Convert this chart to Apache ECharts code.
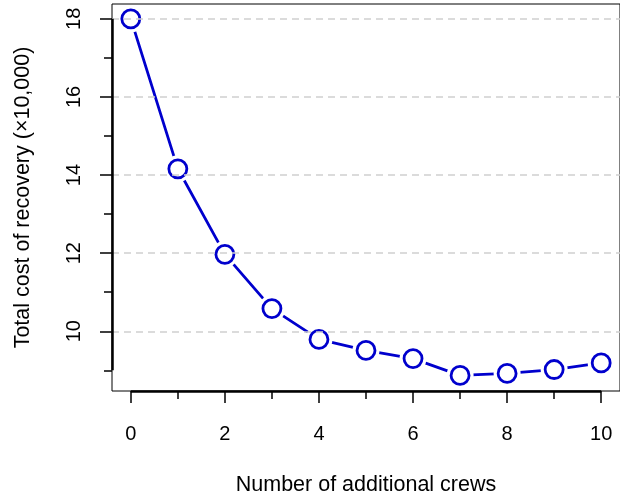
<!DOCTYPE html>
<html>
<head>
<meta charset="utf-8">
<script src="https://cdn.jsdelivr.net/npm/echarts@6/dist/echarts.min.js"></script>
<style>
html,body{margin:0;padding:0;background:#fff;}
#chart{width:620px;height:501px;}
</style>
</head>
<body>
<div id="chart"></div>
<script>
var crews = [0, 1, 2, 3, 4, 5, 6, 7, 8, 9, 10];
var cost = [18.0, 14.16, 11.97, 10.58, 9.79, 9.51, 9.30, 8.87, 8.92, 9.02, 9.19];
var xTicksMajor = [0, 2, 4, 6, 8, 10];
var xTicksMinor = [1, 3, 5, 7, 9];
var yTicksMajor = [10, 12, 14, 16, 18];
var yTicksMinor = [9, 11, 13, 15, 17];
var xRange = [-0.4, 10.4];
var yRange = [8.47, 18.38];

var FONT = "'Liberation Sans', Arial, sans-serif";
var BLUE = '#0000CD';
var pts = crews.map(function (c, i) { return [c, cost[i]]; });

var chart = echarts.init(document.getElementById('chart'), null, {renderer: 'canvas'});

function xAxisDef(ticks, len, labels) {
  return {
    type: 'value', min: xRange[0], max: xRange[1], position: 'bottom',
    axisLine: {show: false, onZero: false},
    splitLine: {show: false},
    axisTick: {show: true, customValues: ticks, length: len, lineStyle: {color: '#000', width: 1.5}},
    axisLabel: labels ? {show: true, customValues: ticks, margin: 33, fontSize: 20, color: '#000', fontFamily: FONT} : {show: false}
  };
}
function yAxisDef(ticks, len, labels) {
  return {
    type: 'value', min: yRange[0], max: yRange[1], position: 'left',
    axisLine: {show: false, onZero: false},
    splitLine: {show: false},
    axisTick: {show: true, customValues: ticks, length: len, lineStyle: {color: '#000', width: 1.5}},
    axisLabel: labels ? {show: true, customValues: ticks, rotate: 90, margin: 28, fontSize: 20, color: '#000', fontFamily: FONT} : {show: false}
  };
}

var xMain = xAxisDef(xTicksMajor, 12, true);
xMain.name = 'Number of additional crews';
xMain.nameLocation = 'middle';
xMain.nameGap = 83;
xMain.nameTextStyle = {fontSize: 21.5, color: '#000', fontFamily: FONT};
var yMain = yAxisDef(yTicksMajor, 12, true);
yMain.name = 'Total cost of recovery (\u00d710,000)';
yMain.nameLocation = 'middle';
yMain.nameGap = 78;
yMain.nameRotate = 90;
yMain.nameTextStyle = {fontSize: 21.5, color: '#000', fontFamily: FONT};

var option = {
  backgroundColor: '#fff',
  animation: false,
  grid: {left: 112, top: 4, width: 510, height: 387, show: true, borderColor: '#000', borderWidth: 1, containLabel: false},
  xAxis: [xMain, xAxisDef(xTicksMinor, 8, false)],
  yAxis: [yMain, yAxisDef(yTicksMinor, 8, false)],
  series: [
    {
      type: 'line', data: pts, showSymbol: false, symbol: 'none',
      lineStyle: {color: BLUE, width: 2.8}, z: 2, silent: true,
      markLine: {
        silent: true, symbol: 'none', animation: false,
        label: {show: false},
        lineStyle: {color: '#d0d0d0', type: [7, 5], width: 1.5},
        data: yTicksMajor.map(function (v) { return {yAxis: v}; })
      }
    },
    {
      type: 'line', data: [], z: 6,
      markLine: {
        silent: true, symbol: 'none', animation: false,
        label: {show: false},
        lineStyle: {color: '#000', type: 'solid', width: 2.5},
        data: [
          [{coord: [xTicksMajor[0], yRange[0]]}, {coord: [xTicksMajor[xTicksMajor.length - 1], yRange[0]]}],
          [{coord: [xRange[0], yTicksMinor[0]]}, {coord: [xRange[0], yTicksMajor[yTicksMajor.length - 1]]}]
        ]
      }
    },
    {
      type: 'scatter', data: pts, symbol: 'circle', symbolSize: 27, z: 3, silent: true,
      itemStyle: {color: '#fff', borderWidth: 0, opacity: 1}
    },
    {
      type: 'scatter', data: pts, symbol: 'circle', symbolSize: 18, z: 4, silent: true,
      itemStyle: {color: '#fff', borderColor: BLUE, borderWidth: 2.8, opacity: 1}
    }
  ]
};
chart.setOption(option);
</script>
</body>
</html>
